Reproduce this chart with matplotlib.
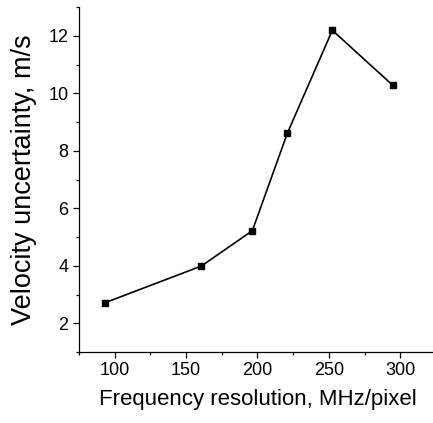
import matplotlib
matplotlib.use("Agg")
import matplotlib.pyplot as plt
from matplotlib.ticker import MultipleLocator

plt.rcParams['font.family'] = ['Liberation Sans', 'DejaVu Sans']

# frequency resolution (MHz/pixel) and velocity uncertainty (m/s)
freq_res = [93.0, 160.7, 196.4, 220.9, 252.4, 294.7]
vel_unc = [2.71, 3.99, 5.22, 8.61, 12.19, 10.28]

fig = plt.figure(figsize=(4.33, 4.23), dpi=100)
ax = fig.add_axes([0.1824, 0.1678, 0.8245, 0.8156])

ax.plot(freq_res, vel_unc, color='k', linewidth=1.2,
        marker='s', markersize=5, markerfacecolor='k', markeredgecolor='k')

ax.set_xlim(75, 325)
ax.set_ylim(1, 13)
ax.xaxis.set_major_locator(MultipleLocator(50))
ax.xaxis.set_minor_locator(MultipleLocator(25))
ax.yaxis.set_major_locator(MultipleLocator(2))
ax.yaxis.set_minor_locator(MultipleLocator(1))

ax.spines['top'].set_visible(False)
ax.spines['right'].set_visible(False)
for sp in ['left', 'bottom']:
    ax.spines[sp].set_linewidth(0.9)

ax.tick_params(which='major', direction='out', length=4, width=0.9, labelsize=13, colors='k')
ax.tick_params(which='minor', direction='out', length=2.5, width=0.9)

ax.set_xlabel("Frequency resolution, MHz/pixel", fontsize=16, labelpad=7)
ax.set_ylabel("Velocity uncertainty, m/s", fontsize=19.5, labelpad=8)

plt.savefig('out.png', dpi=100)
